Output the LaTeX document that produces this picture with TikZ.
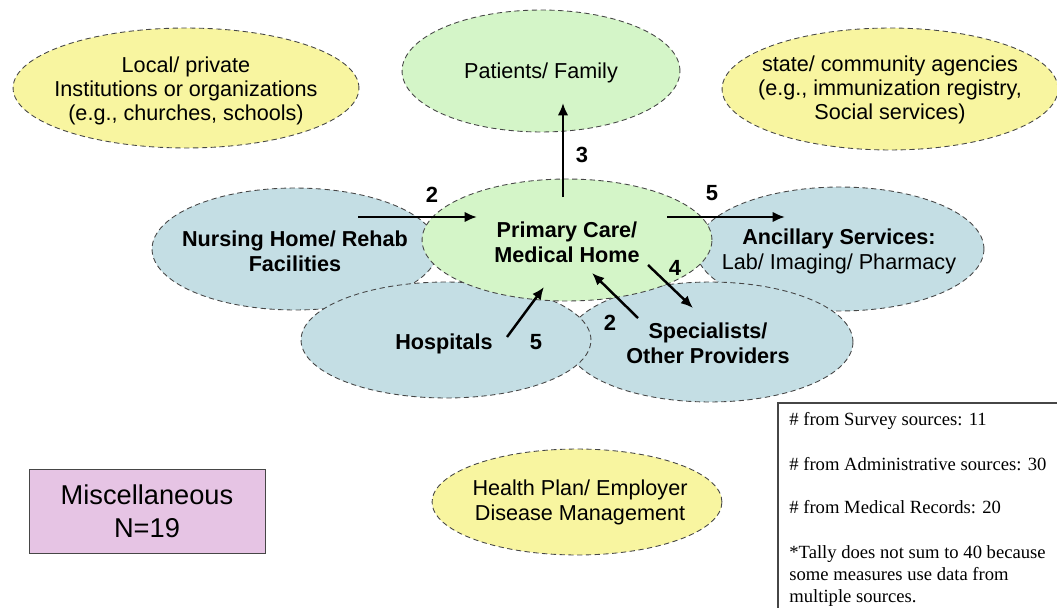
\documentclass[tikz,border=0pt]{standalone}
\usepackage{fontspec}
\setmainfont{Liberation Sans}
\newfontfamily\notefont{Liberation Serif}
\usetikzlibrary{arrows.meta, positioning, shapes.geometric}
\definecolor{pubyellow}{RGB}{248, 245, 160}
\definecolor{pcgreen}{RGB}{212, 245, 200}
\definecolor{provblue}{RGB}{196, 222, 228}
\definecolor{miscpink}{RGB}{230, 196, 228}
\definecolor{rimgray}{RGB}{70, 70, 70}

\tikzset{
	bubble/.style 2 args={ellipse, draw=rimgray, densely dashed, line width=0.5pt, inner sep=0pt,
		minimum width=#1*0.04cm, minimum height=#2*0.04cm},
	lbl/.style={align=center, inner sep=0pt, font=\fontsize{12.3}{14.2}\selectfont},
	lblb/.style={lbl, font=\fontsize{12.3}{14.2}\selectfont\bfseries},
	flow/.style={line width=1.4pt, -{Latex[length=7pt,width=6pt]}},
	tally/.style={inner sep=0pt, font=\fontsize{12.5}{13}\selectfont\bfseries},
	note/.style={anchor=west, inner sep=0pt, align=left, font=\notefont\fontsize{10.6}{12.5}\selectfont}
}

\begin{document}
\begin{tikzpicture}[x=0.02cm, y=-0.02cm]
	\useasboundingbox (0,0) rectangle (1057,608);
	
	% top row
	\node[bubble={173}{60}, fill=pubyellow] (local) at (186,88) {};
	\node[bubble={139}{61}, fill=pcgreen] (patients) at (541,71) {};
	\node[bubble={168}{61}, fill=pubyellow] (state) at (890,89) {};
	\node[lbl, font=\fontsize{12.3}{13.6}\selectfont] (localtxt) at (186,91) {Local/ private\\Institutions or organizations\\(e.g., churches, schools)};
	\node[lbl] (patientstxt) at (541,73) {Patients/ Family};
	\node[lbl, font=\fontsize{12.3}{13.6}\selectfont] (statetxt) at (890,90) {state/ community agencies\\(e.g., immunization registry,\\Social services)};
	
	% providers, back to front
	\node[bubble={144}{62}, fill=provblue] (ancillary) at (840,249) {};
	\node[bubble={143}{60}, fill=provblue] (special) at (710,342) {};
	\node[bubble={143}{61}, fill=provblue] (nursing) at (295,249) {};
	\node[bubble={145}{58}, fill=provblue] (hospital) at (446,340) {};
	\node[bubble={145}{61}, fill=pcgreen] (primary) at (567,240) {};
	
	\node[lblb] (nursingtxt) at (295,251) {Nursing Home/ Rehab\\Facilities};
	\node[lblb] (primarytxt) at (567,242) {Primary Care/\\Medical Home};
	\node[lbl] (ancillarytxt) at (839,251) {\bfseries Ancillary Services:\\Lab/ Imaging/ Pharmacy};
	\node[lblb] (hospitaltxt) at (444,344) {Hospitals};
	\node[lblb] (specialtxt) at (708,343) {Specialists/\\Other Providers};
	
	% bottom row
	\node[bubble={145}{53}, fill=pubyellow] (healthplan) at (577,502) {};
	\node[lbl] (healthplantxt) at (580,502) {Health Plan/ Employer\\Disease Management};
	\node[draw=rimgray, fill=miscpink, align=center, inner sep=0pt,
		minimum width=236*0.02cm, minimum height=84*0.02cm,
		font=\fontsize{15.5}{18.7}\selectfont] (misc) at (147,511) {Miscellaneous\\N=19};
	
	% connectors
	\coordinate (nursingout) at (358,217);
	\coordinate (primaryw) at (477,217);
	\coordinate (primaryn) at (563,197);
	\coordinate (patientsin) at (563,103);
	\coordinate (primarye) at (667,217);
	\coordinate (ancillaryin) at (785,217);
	\coordinate (primaryse) at (648,265);
	\coordinate (specialin) at (693,308);
	\coordinate (specialout) at (638,318);
	\coordinate (primarys) at (592,273);
	\coordinate (hospitalout) at (507,337);
	\coordinate (primarysw) at (544,287);
	
	\draw[flow] (nursingout) -- (primaryw);
	\draw[flow] (primaryn) -- (patientsin);
	\draw[flow] (primarye) -- (ancillaryin);
	\draw[flow] (primaryse) -- (specialin);
	\draw[flow] (specialout) -- (primarys);
	\draw[flow] (hospitalout) -- (primarysw);
	
	\node[tally] (nnursing) at (432,195) {2};
	\node[tally] (npatients) at (582,155) {3};
	\node[tally] (nancillary) at (712,193) {5};
	\node[tally] (nspecout) at (675,268) {4};
	\node[tally] (nspecin) at (610,323) {2};
	\node[tally] (nhospital) at (536,342) {5};
	
	% source tally box
	\draw[rimgray, line width=0.8pt] (1057,403) -| (778,608);
	\node[note] (survey) at (789,421) {\# from Survey sources: 11};
	\node[note] (admin) at (789,464) {\# from Administrative sources: 30};
	\node[note] (records) at (789,507) {\# from Medical Records: 20};
	\node[note] (caveat) at (789,576) {*Tally does not sum to 40 because\\some measures use data from\\multiple sources.};
	
\end{tikzpicture}
\end{document}
